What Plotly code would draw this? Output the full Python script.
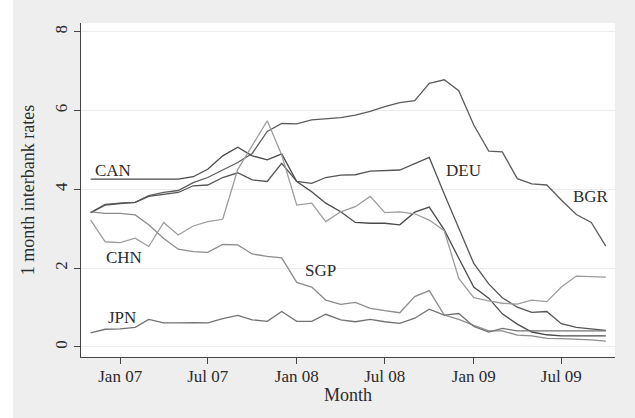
import pandas as pd
import plotly.graph_objects as go

# Monthly observations, Nov 2006 - Oct 2009
months = pd.date_range("2006-11-01", periods=36, freq="MS")

bgr = [3.41, 3.62, 3.65, 3.67, 3.84, 3.92, 3.97, 4.17, 4.30, 4.50, 4.68, 4.91,
       5.47, 5.67, 5.66, 5.76, 5.79, 5.82, 5.88, 5.98, 6.10, 6.20, 6.25, 6.69,
       6.78, 6.50, 5.63, 4.97, 4.95, 4.27, 4.14, 4.11, 3.73, 3.36, 3.16, 2.56]
can = [4.26, 4.26, 4.26, 4.26, 4.26, 4.26, 4.26, 4.32, 4.51, 4.85, 5.07, 4.85,
       4.75, 4.90, 4.20, 3.94, 3.65, 3.43, 3.16, 3.14, 3.14, 3.10, 3.42, 3.55,
       2.97, 2.25, 1.52, 1.24, 0.84, 0.58, 0.38, 0.31, 0.28, 0.28, 0.28, 0.28]
deu = [3.41, 3.60, 3.64, 3.67, 3.82, 3.87, 3.92, 4.09, 4.11, 4.30, 4.42, 4.24,
       4.20, 4.66, 4.20, 4.15, 4.30, 4.36, 4.37, 4.46, 4.47, 4.49, 4.65, 4.81,
       3.88, 3.00, 2.12, 1.60, 1.25, 1.01, 0.88, 0.90, 0.59, 0.50, 0.45, 0.42]
chn = [3.22, 2.67, 2.65, 2.76, 2.55, 3.16, 2.84, 3.07, 3.18, 3.24, 4.50, 5.10,
       5.74, 4.87, 3.60, 3.65, 3.18, 3.43, 3.56, 3.82, 3.41, 3.43, 3.38, 3.22,
       2.95, 1.74, 1.25, 1.17, 1.11, 1.09, 1.19, 1.15, 1.52, 1.80, 1.78, 1.77]
sgp = [3.43, 3.39, 3.39, 3.35, 3.10, 2.75, 2.48, 2.42, 2.40, 2.60, 2.59, 2.36,
       2.30, 2.26, 1.64, 1.52, 1.19, 1.08, 1.13, 0.98, 0.92, 0.87, 1.28, 1.43,
       0.81, 0.70, 0.55, 0.41, 0.41, 0.30, 0.28, 0.22, 0.21, 0.20, 0.18, 0.15]
jpn = [0.36, 0.45, 0.46, 0.50, 0.70, 0.61, 0.61, 0.62, 0.61, 0.72, 0.80, 0.69,
       0.65, 0.90, 0.65, 0.65, 0.83, 0.69, 0.64, 0.70, 0.64, 0.60, 0.73, 0.96,
       0.81, 0.85, 0.52, 0.38, 0.47, 0.41, 0.41, 0.41, 0.41, 0.41, 0.41, 0.41]

series = {"BGR": bgr, "CAN": can, "DEU": deu, "CHN": chn, "SGP": sgp, "JPN": jpn}
colors = {"BGR": "#5c5c5c", "CAN": "#4a4a4a", "DEU": "#555555",
          "CHN": "#9c9c9c", "SGP": "#8c8c8c", "JPN": "#727272"}

# Where each country name is written (left edge of the text)
label_pos = {"CAN": ("2006-11-06", 4.47), "CHN": ("2006-11-29", 2.28),
             "JPN": ("2006-12-03", 0.75), "SGP": ("2008-01-13", 1.93),
             "DEU": ("2008-10-31", 4.47), "BGR": ("2009-07-20", 3.83)}

FONT = "Liberation Serif"
INK = "#2b2b2b"

fig = go.Figure()
for name, vals in series.items():
    fig.add_trace(go.Scatter(x=months, y=vals, mode="lines", name=name,
                             line=dict(color=colors[name], width=1.3),
                             showlegend=False))

for name, (xd, yv) in label_pos.items():
    fig.add_annotation(x=xd, y=yv, text=name, showarrow=False,
                       xanchor="left", yanchor="middle",
                       font=dict(family=FONT, size=17, color=INK))

# white strips at the top and left edge around the grey graph region
W, H = 635, 418
L, R, T, B = 81, 20, 23, 61
pw, ph = W - L - R, H - T - B
fig.add_shape(type="rect", xref="paper", yref="paper", layer="below",
              x0=-L / pw, x1=(13 - L) / pw, y0=-B / ph, y1=(H - T) / ph,
              fillcolor="white", line=dict(width=0))
fig.add_shape(type="rect", xref="paper", yref="paper", layer="below",
              x0=-L / pw, x1=1 + R / pw, y0=(H - T - 5) / ph, y1=(H - T) / ph,
              fillcolor="white", line=dict(width=0))

fig.update_layout(
    width=W, height=H,
    margin=dict(l=L, r=R, t=T, b=B, pad=0),
    paper_bgcolor="#eeeeee", plot_bgcolor="white",
    font=dict(family=FONT, size=17, color=INK),
)
fig.update_xaxes(
    range=["2006-10-12", "2009-10-20"],
    tick0="2007-01-01", dtick="M6", tickformat="%b %y",
    ticks="outside", ticklen=6, tickwidth=1, tickcolor="#444",
    ticklabelstandoff=-3,
    showline=True, linecolor="#444", linewidth=1.2,
    showgrid=False, zeroline=False,
    title=dict(text="Month", font=dict(size=18), standoff=2),
)
fig.update_yaxes(
    range=[-0.254, 8.22],
    tickvals=[0, 2, 4, 6, 8], tickangle=-90,
    ticks="outside", ticklen=6, tickwidth=1, tickcolor="#444",
    showline=True, linecolor="#444", linewidth=1.2,
    showgrid=True, gridcolor="#ececec", gridwidth=1, zeroline=False,
    title=dict(text="1 month interbank rates", font=dict(size=18), standoff=12),
)

fig.write_html("out.html")
